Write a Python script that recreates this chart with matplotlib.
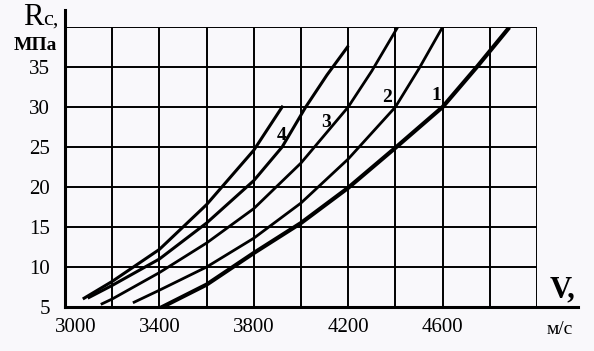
import matplotlib

matplotlib.use("Agg")
import matplotlib.pyplot as plt
import numpy as np

# curves: velocity V (m/s) -> strength Rc (MPa)
v_a = [3081, 3200, 3400, 3600, 3800, 3920]
r_a = [6.1, 8.2, 12.2, 17.8, 24.6, 30.0]
v_4 = [3102, 3200, 3400, 3600, 3800, 3920, 4020, 4110, 4197]
r_4 = [6.2, 7.7, 11.0, 15.5, 20.8, 25.0, 30.0, 34.0, 37.5]
v_3 = [3157, 3200, 3400, 3600, 3800, 4000, 4200, 4300, 4410]
r_3 = [5.4, 6.0, 9.3, 13.0, 17.3, 23.0, 30.0, 34.5, 40.0]
v_2 = [3293, 3400, 3600, 3800, 4000, 4200, 4400, 4500, 4600]
r_2 = [5.6, 7.1, 10.0, 13.6, 18.0, 23.5, 30.0, 34.8, 40.0]
v_1 = [3412, 3600, 3800, 4000, 4200, 4400, 4600, 4745, 4877]
r_1 = [5.0, 7.8, 11.75, 15.5, 19.9, 24.9, 30.0, 35.0, 39.75]

curve_names = ["1", "2", "3", "4"]
curve_label_v = [4575, 4363, 4108, 3917]
curve_label_r = [31.5, 31.25, 28.1, 26.5]

x_ticks = [3000, 3400, 3800, 4200, 4600]
y_ticks = [5, 10, 15, 20, 25, 30, 35]

plt.rcParams["font.family"] = ["Liberation Serif", "DejaVu Serif"]
bg = "#f9f8fb"

fig = plt.figure(figsize=(5.94, 3.51), dpi=100, facecolor=bg)
ax = fig.add_axes([65 / 594, 44 / 351, 472 / 594, 280 / 351], facecolor=bg)
ax.set_xlim(3000, 5000)
ax.set_ylim(5, 40)
for s in ax.spines.values():
    s.set_visible(False)

for xv in np.arange(3000, 5001, 200):
    ax.axvline(xv, color="black", lw=1.4, zorder=1)
for yv in np.arange(5, 41, 5):
    ax.axhline(yv, color="black", lw=1.4, zorder=1)

# extended axis lines
ax.plot([0, 0], [0, 1.061], transform=ax.transAxes, color="black", lw=2.2, clip_on=False)
ax.plot([0, 1.087], [0, 0], transform=ax.transAxes, color="black", lw=2.2, clip_on=False)

ax.plot(v_a, r_a, color="black", lw=2.2, zorder=3)
ax.plot(v_4, r_4, color="black", lw=2.2, zorder=3)
ax.plot(v_3, r_3, color="black", lw=2.0, zorder=3)
ax.plot(v_2, r_2, color="black", lw=2.0, zorder=3)
ax.plot(v_1, r_1, color="black", lw=3.0, zorder=3)

for name, xv, yv in zip(curve_names, curve_label_v, curve_label_r):
    ax.text(xv, yv, name, fontsize=14, fontweight="bold", ha="center", va="center",
            zorder=4)

ax.set_xticks(x_ticks)
ax.set_xticklabels([""] + [str(v) for v in x_ticks[1:]])
ax.set_yticks(y_ticks)
ax.set_yticklabels([str(v) for v in y_ticks])
ax.tick_params(axis="x", length=0, labelsize=15, pad=8)
ax.tick_params(axis="y", length=0, labelsize=15, pad=11)
ax.annotate("3000", xy=(x_ticks[0], 5), xytext=(8, -8), textcoords="offset points",
            ha="center", va="top", fontsize=15)

fig.text(23 / 594, 1 - 25 / 351, "R", fontsize=22, va="baseline", ha="left")
fig.text(43 / 594, 1 - 25 / 351, "c,", fontsize=16, va="baseline", ha="left")
fig.text(35 / 594, 1 - 45 / 351, "МПа", fontsize=14, fontweight="bold",
         va="center", ha="center")
fig.text(563 / 594, 1 - 290 / 351, "V,", fontsize=22, fontweight="bold",
         va="center", ha="center")
fig.text(560 / 594, 1 - 329 / 351, "м/с", fontsize=14, va="center", ha="center")

fig.savefig("out.png", dpi=100, facecolor=bg)
